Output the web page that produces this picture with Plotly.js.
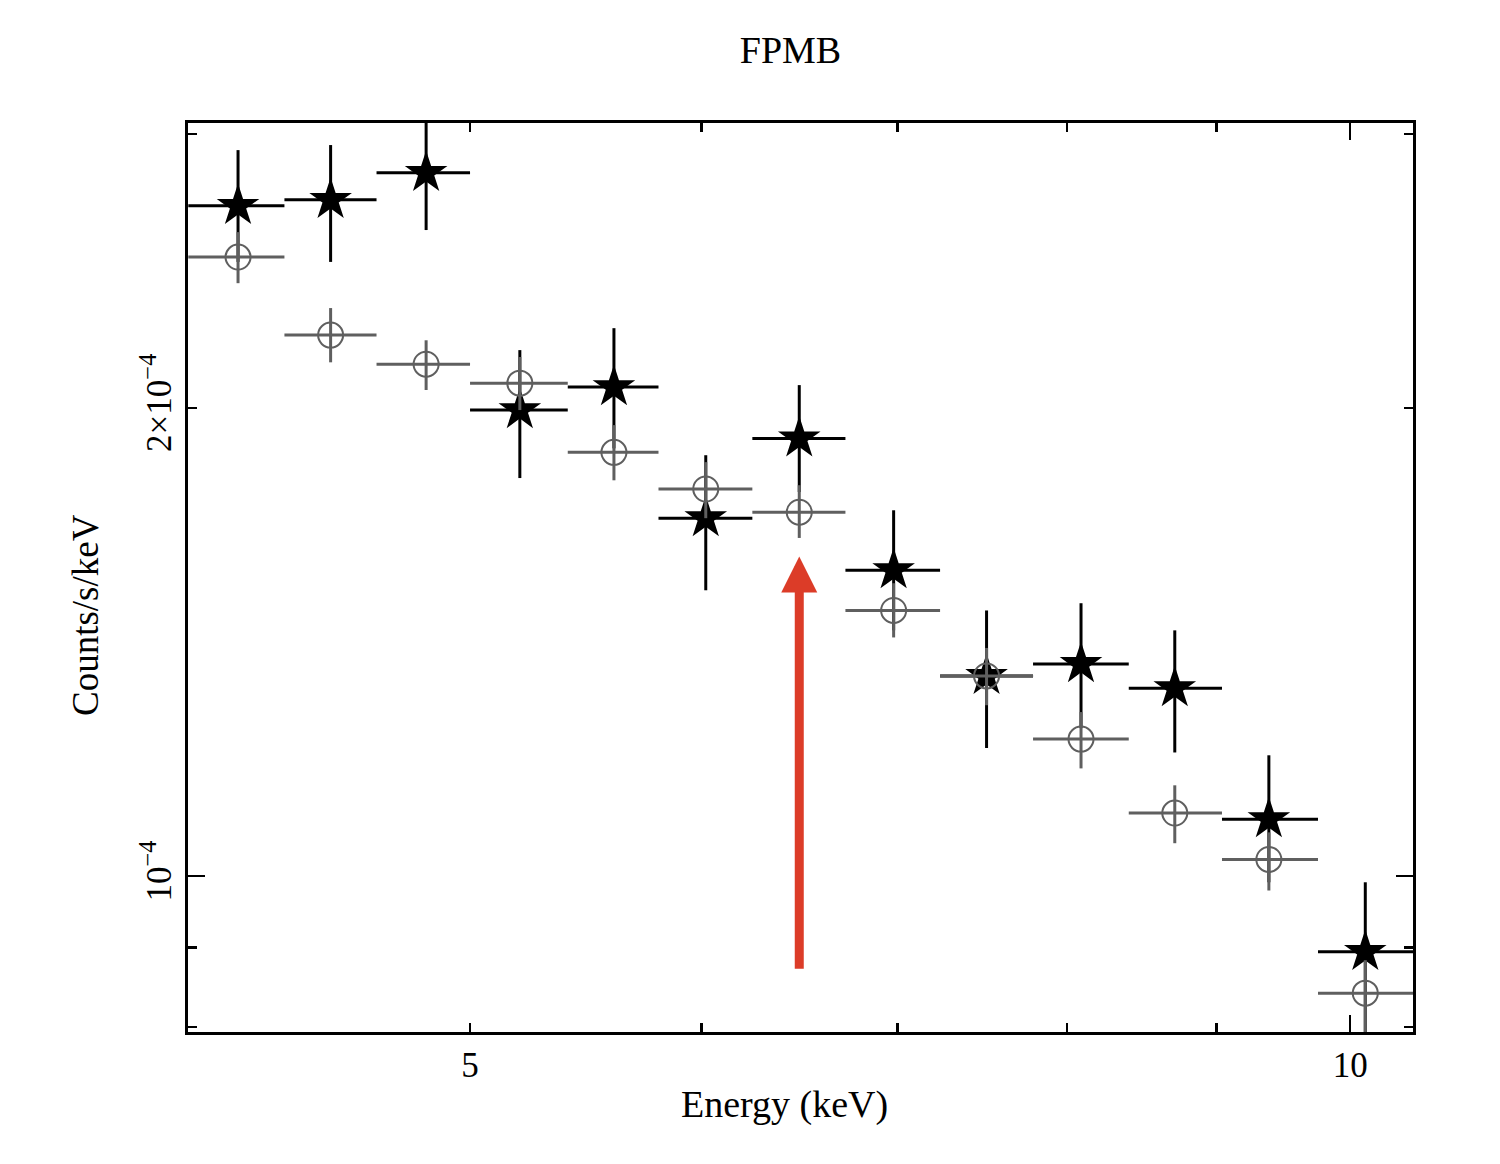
<!DOCTYPE html>
<html>
<head>
<meta charset="utf-8">
<script src="https://cdn.plot.ly/plotly-3.0.1.min.js"></script>
<style>
  body { margin: 0; background: #fff; }
  #graph { width: 1500px; height: 1164px; }
</style>
</head>
<body>
<div id="graph"></div>
<script>
// bin edges / centres in keV
var binLo = [4.005, 4.32, 4.645, 5.0, 5.40, 5.80, 6.245, 6.72, 7.24, 7.79, 8.40, 9.04, 9.75]
var binHi = [4.32, 4.645, 5.0, 5.40, 5.80, 6.245, 6.72, 7.24, 7.79, 8.40, 9.04, 9.75, 10.55]
var energy = [4.165, 4.48, 4.83, 5.20, 5.60, 6.02, 6.48, 6.98, 7.51, 8.09, 8.71, 9.38, 10.12]

// black stars (counts/s/keV, in units of 1e-4)
var starRate = [2.698, 2.722, 2.833, 1.994, 2.063, 1.699, 1.912, 1.573, 1.345, 1.369, 1.321, 1.088, 0.894]
var starHi = [2.930, 2.952, 3.086, 2.179, 2.251, 1.865, 2.069, 1.719, 1.482, 1.498, 1.439, 1.196, 0.991]
var starLo = [2.483, 2.483, 2.603, 1.803, 1.884, 1.527, 1.766, 1.439, 1.209, 1.245, 1.201, 0.991, 0.779]

// grey open circles
var circRate = [2.501, 2.228, 2.134, 2.075, 1.873, 1.774, 1.714, 1.482, 1.345, 1.225, 1.098, 1.025, 0.841]
var circHi = [2.595, 2.319, 2.211, 2.157, 1.950, 1.846, 1.784, 1.543, 1.402, 1.275, 1.144, 1.067, 0.883]
var circLo = [2.406, 2.140, 2.054, 1.994, 1.797, 1.699, 1.650, 1.424, 1.288, 1.173, 1.050, 0.979, 0.779]

// tick values
var xLabelled = [5, 10]
var xMinor = [6, 7, 8, 9]
var yLabelled = [1e-4, 2e-4]
var yLabels = ['10<sup>\u22124</sup>', '2\u00d710<sup>\u22124</sup>']
var yMinor = [8e-5, 9e-5, 3e-4]

// energy marked by the arrow
var lineEnergy = 6.48

var serif = 'Liberation Serif, Times New Roman, serif'
var grey = '#5f5f5f'
var scale = 1e-4

function scaled(arr) { return arr.map(function(v) { return v * scale }) }
function diff(a, b) { return a.map(function(v, i) { return (v - b[i]) * scale }) }

var xPlus = binHi.map(function(v, i) { return v - energy[i] })
var xMinus = energy.map(function(v, i) { return v - binLo[i] })

var stars = {
    x: energy,
    y: scaled(starRate),
    mode: 'markers',
    type: 'scatter',
    marker: { symbol: 'star', size: 32, color: 'black' },
    error_x: { type: 'data', symmetric: false, array: xPlus, arrayminus: xMinus, width: 0, thickness: 3, color: 'black' },
    error_y: { type: 'data', symmetric: false, array: diff(starHi, starRate), arrayminus: diff(starRate, starLo), width: 0, thickness: 3, color: 'black' },
    hoverinfo: 'x+y'
}

var circles = {
    x: energy,
    y: scaled(circRate),
    mode: 'markers',
    type: 'scatter',
    marker: { symbol: 'circle-open', size: 25, color: grey, line: { width: 2, color: grey } },
    error_x: { type: 'data', symmetric: false, array: xPlus, arrayminus: xMinus, width: 0, thickness: 3, color: grey },
    error_y: { type: 'data', symmetric: false, array: diff(circHi, circRate), arrayminus: diff(circRate, circLo), width: 0, thickness: 3, color: grey },
    hoverinfo: 'x+y'
}

// invisible trace so the long decade-tick axes get drawn
var ghost = {
    x: energy,
    y: scaled(circRate),
    xaxis: 'x2',
    yaxis: 'y2',
    mode: 'markers',
    type: 'scatter',
    marker: { opacity: 0 },
    hoverinfo: 'skip'
}

var xRange = [0.6025, 1.0215]
var yRange = [-4.1002, -3.5157]

var baseAxis = {
    type: 'log',
    ticks: 'inside',
    tickcolor: 'black',
    tickwidth: 2.5,
    showline: true,
    linewidth: 3,
    linecolor: 'black',
    mirror: 'ticks',
    showgrid: false,
    zeroline: false,
    tickmode: 'array',
    tickfont: { family: serif, size: 35, color: 'black' }
}

var layout = {
    width: 1500,
    height: 1164,
    showlegend: false,
    paper_bgcolor: 'white',
    plot_bgcolor: 'white',
    margin: { l: 188, r: 87, t: 123, b: 132 },
    title: {
        text: 'FPMB',
        font: { family: serif, size: 38, color: 'black' },
        x: 0.527, xanchor: 'center',
        y: 0.957, yref: 'container', yanchor: 'middle'
    },
    xaxis: Object.assign({}, baseAxis, {
        range: xRange,
        ticklen: 9,
        tickvals: xLabelled,
        ticktext: xLabelled.map(String),
        minor: { tickmode: 'array', tickvals: xMinor, ticks: 'inside', ticklen: 9, tickwidth: 2.5, tickcolor: 'black', showgrid: false }
    }),
    yaxis: Object.assign({}, baseAxis, {
        range: yRange,
        ticklen: 9,
        tickangle: -90,
        tickvals: yLabelled,
        ticktext: yLabels,
        minor: { tickmode: 'array', tickvals: yMinor, ticks: 'inside', ticklen: 9, tickwidth: 2.5, tickcolor: 'black', showgrid: false }
    }),
    xaxis2: Object.assign({}, baseAxis, {
        range: xRange,
        overlaying: 'x',
        anchor: 'y2',
        side: 'bottom',
        ticklen: 17,
        tickvals: [10],
        showticklabels: false
    }),
    yaxis2: Object.assign({}, baseAxis, {
        range: yRange,
        overlaying: 'y',
        anchor: 'x2',
        side: 'left',
        ticklen: 17,
        tickvals: [1e-4],
        showticklabels: false
    }),
    annotations: [{
        text: 'Energy (keV)',
        xref: 'paper', yref: 'paper',
        x: 0.487, y: -0.0803,
        xanchor: 'center', yanchor: 'middle',
        showarrow: false,
        font: { family: serif, size: 38, color: 'black' }
    }, {
        text: 'Counts/s/keV',
        xref: 'paper', yref: 'paper',
        x: -0.0841, y: 0.4587,
        xanchor: 'center', yanchor: 'middle',
        textangle: -90,
        showarrow: false,
        font: { family: serif, size: 37, color: 'black' }
    }, {
        x: Math.log10(lineEnergy),
        y: Math.log10(1.605e-4),
        ax: Math.log10(lineEnergy),
        ay: Math.log10(0.870e-4),
        xref: 'x', yref: 'y', axref: 'x', ayref: 'y',
        text: '',
        showarrow: true,
        arrowhead: 2,
        arrowsize: 0.8,
        arrowwidth: 9,
        arrowcolor: '#dc3c28'
    }]
}

Plotly.newPlot('graph', [stars, circles, ghost], layout, { displayModeBar: false, staticPlot: true })
</script>
</body>
</html>
